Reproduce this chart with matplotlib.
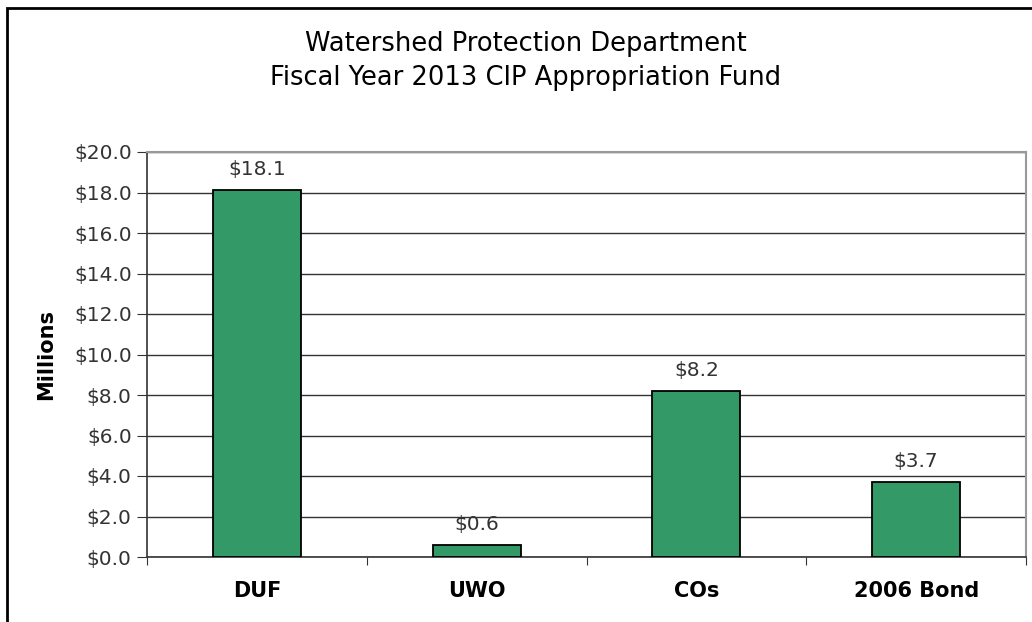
import matplotlib
matplotlib.use("Agg")
import matplotlib.pyplot as plt
from matplotlib.patches import Rectangle

categories = ["DUF", "UWO", "COs", "2006 Bond"]
values = [18.1, 0.6, 8.2, 3.7]
yticks = [0, 2, 4, 6, 8, 10, 12, 14, 16, 18, 20]

plt.rcParams["font.family"] = ["DejaVu Sans"]

W, H = 1032, 622
fig = plt.figure(figsize=(W / 100, H / 100), dpi=100)
ax = fig.add_axes([147 / W, 1 - 557 / H, (1026 - 147) / W, (557 - 152) / H])

x = list(range(len(categories)))
ax.bar(x, values, width=0.4, color="#339966", edgecolor="black", linewidth=1.3, zorder=3)

ax.set_xlim(-0.5, len(categories) - 0.5)
ax.set_ylim(0, 20)
ax.set_yticks(yticks)
ax.set_yticklabels([f"${v:.1f}" for v in yticks], fontsize=14.5, color="#333333")
ax.yaxis.grid(True, color="#333333", linewidth=1.0, zorder=0)

# category ticks at the boundaries between bars
ax.set_xticks([i - 0.5 for i in range(len(categories) + 1)])
ax.set_xticklabels([])
ax.set_xticks(x, minor=True)
ax.set_xticklabels(categories, minor=True, fontsize=15, fontweight="bold")
ax.tick_params(axis="x", which="minor", length=0, pad=17)
ax.tick_params(axis="x", which="major", length=6, direction="out", color="#333333")
ax.tick_params(axis="y", length=7, direction="out", color="#333333", pad=4)

for side in ("top", "right"):
    ax.spines[side].set_color("#999999")
    ax.spines[side].set_linewidth(1.5)
for side in ("left", "bottom"):
    ax.spines[side].set_color("#333333")
    ax.spines[side].set_linewidth(1.2)

for xi, v in zip(x, values):
    ax.annotate(f"${v:.1f}", (xi, v), xytext=(0, 15), textcoords="offset points",
                ha="center", va="center", fontsize=14.5, color="#333333")

ax.set_ylabel("Millions", fontsize=15, fontweight="bold", labelpad=13)

fig.text(526 / W, 1 - 61 / H, "Watershed Protection Department\nFiscal Year 2013 CIP Appropriation Fund",
         ha="center", va="center", fontsize=18.5, linespacing=1.4)

# outer frame of the chart
fig.patches.append(Rectangle((7 / W, -0.1), 1.2, 1 - 8 / H + 0.1, transform=fig.transFigure,
                             fill=False, edgecolor="black", linewidth=2))

fig.savefig("out.png", dpi=100)
